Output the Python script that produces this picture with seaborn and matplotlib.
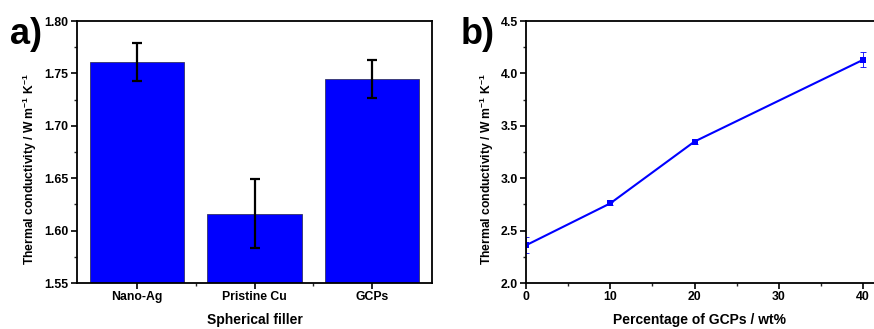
import numpy as np
import pandas as pd
import seaborn as sns
import matplotlib.pyplot as plt
from matplotlib.ticker import MultipleLocator, FixedLocator

# panel a data
fillers = ['Nano-Ag', 'Pristine Cu', 'GCPs']
tc_fillers = [1.761, 1.616, 1.745]
tc_fillers_err = [0.018, 0.033, 0.018]

# panel b data
gcp_wt = [0, 10, 20, 40]
tc_gcp = [2.36, 2.76, 3.35, 4.13]
tc_gcp_err = [0.075, 0.015, 0.02, 0.07]

sns.set_theme(style='ticks')
plt.rcParams['font.family'] = ['Liberation Sans', 'DejaVu Sans']
plt.rcParams['font.weight'] = 'bold'
plt.rcParams['axes.labelweight'] = 'bold'
plt.rcParams['text.color'] = 'black'
plt.rcParams['axes.labelcolor'] = 'black'
plt.rcParams['mathtext.fontset'] = 'custom'
plt.rcParams['mathtext.bf'] = 'Liberation Sans:bold'
plt.rcParams['mathtext.rm'] = 'Liberation Sans:bold'
plt.rcParams['mathtext.default'] = 'bf'

fig = plt.figure(figsize=(8.74, 3.29), dpi=100)
ax1 = fig.add_axes([0.0881, 0.1398, 0.4062, 0.7962])
ax2 = fig.add_axes([0.6018, 0.1398, 0.3982, 0.7962])

ylab = 'Thermal conductivity / W m$^{-1}$ K$^{-1}$'

# bar chart
df_a = pd.DataFrame({'filler': fillers, 'tc': tc_fillers})
sns.barplot(data=df_a, x='filler', y='tc', color='#0000ff', saturation=1,
            width=0.8, edgecolor='#333366', linewidth=0.6, ax=ax1)
ax1.errorbar(range(len(fillers)), tc_fillers, yerr=tc_fillers_err, fmt='none',
             ecolor='black', elinewidth=1.6, capsize=3.5, capthick=1.6)
ax1.set_xlim(-0.51, 2.51)
ax1.yaxis.set_major_locator(FixedLocator([1.55, 1.60, 1.65, 1.70, 1.75, 1.80]))
ax1.yaxis.set_minor_locator(MultipleLocator(0.025))
ax1.xaxis.set_minor_locator(FixedLocator([0.5, 1.5]))
ax1.set_yticklabels(['1.55', '1.60', '1.65', '1.70', '1.75', '1.80'])
ax1.set_ylim(1.55, 1.80)
ax1.set_xlabel('Spherical filler', fontsize=10, labelpad=7)
ax1.set_ylabel(ylab, fontsize=8.7)
ax1.yaxis.set_label_coords(-0.108, 0.435)

# line chart
df_b = pd.DataFrame({'wt': gcp_wt, 'tc': tc_gcp})
sns.lineplot(data=df_b, x='wt', y='tc', color='#0000ff', linewidth=1.5,
             marker='s', markersize=5, markeredgewidth=0, ax=ax2)
ax2.errorbar(gcp_wt, tc_gcp, yerr=tc_gcp_err, fmt='none', ecolor='#0000ff',
             elinewidth=0.6, capsize=2.5, capthick=0.6)
ax2.set_xlim(0, 41.3)
ax2.set_ylim(2.0, 4.5)
ax2.xaxis.set_major_locator(MultipleLocator(10))
ax2.xaxis.set_minor_locator(MultipleLocator(5))
ax2.yaxis.set_major_locator(MultipleLocator(0.5))
ax2.yaxis.set_minor_locator(MultipleLocator(0.25))
ax2.set_xlabel('Percentage of GCPs / wt%', fontsize=10, labelpad=7)
ax2.set_ylabel(ylab, fontsize=8.7)
ax2.yaxis.set_label_coords(-0.085, 0.435)
ax2.spines['right'].set_visible(False)

for ax in (ax1, ax2):
    for s in ax.spines.values():
        s.set_linewidth(1.3)
        s.set_color('black')
    ax.tick_params(which='major', direction='out', length=4.5, width=1.2,
                   labelsize=8.8, pad=1.5, colors='black')
    ax.tick_params(which='minor', direction='out', length=2.5, width=1.0)
    for lab in ax.get_xticklabels() + ax.get_yticklabels():
        lab.set_fontweight('bold')

fig.text(0.012, 0.865, 'a)', fontsize=26, fontweight='bold', color='black')
fig.text(0.527, 0.865, 'b)', fontsize=26, fontweight='bold', color='black')

fig.savefig('out.png', dpi=100)
